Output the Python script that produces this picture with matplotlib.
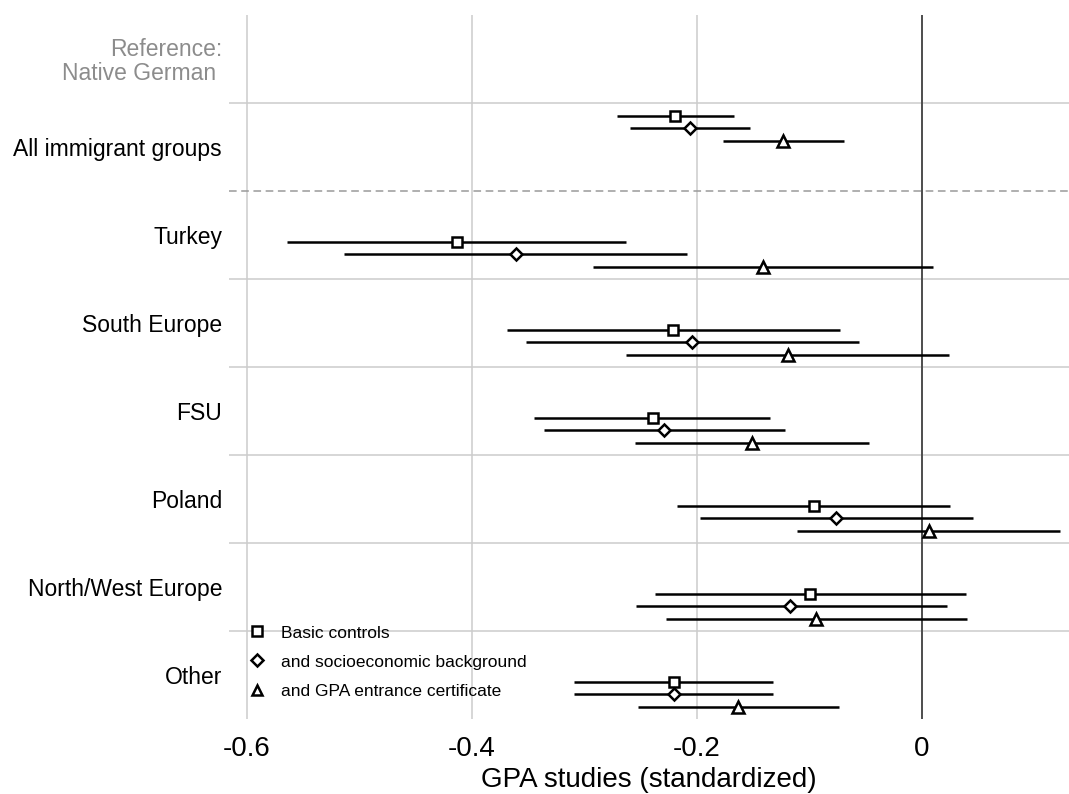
import matplotlib
matplotlib.use("Agg")
import matplotlib.pyplot as plt
from matplotlib.lines import Line2D
import numpy as np

plt.rcParams['font.family'] = ['Liberation Sans', 'DejaVu Sans']

# groups listed top to bottom (reference row sits above them)
groups = ["All immigrant groups", "Turkey", "South Europe", "FSU",
          "Poland", "North/West Europe", "Other"]
models = ["Basic controls", "and socioeconomic background",
          "and GPA entrance certificate"]

# point estimates, one list per model
est_basic = [-0.219, -0.413, -0.221, -0.239, -0.096, -0.099, -0.220]
est_ses = [-0.206, -0.361, -0.204, -0.229, -0.076, -0.117, -0.220]
est_gpa = [-0.123, -0.141, -0.119, -0.151, 0.006, -0.094, -0.163]

# 95% interval bounds
lo_basic = [-0.271, -0.564, -0.369, -0.345, -0.218, -0.237, -0.309]
hi_basic = [-0.167, -0.263, -0.073, -0.135, 0.025, 0.039, -0.132]
lo_ses = [-0.259, -0.513, -0.352, -0.336, -0.197, -0.254, -0.309]
hi_ses = [-0.153, -0.209, -0.056, -0.122, 0.045, 0.022, -0.132]
lo_gpa = [-0.177, -0.292, -0.263, -0.255, -0.111, -0.227, -0.252]
hi_gpa = [-0.069, 0.010, 0.024, -0.047, 0.123, 0.040, -0.074]

xticks = [-0.6, -0.4, -0.2, 0]
xtick_labels = ["-0.6", "-0.4", "-0.2", "0"]

fig = plt.figure(figsize=(10.69, 7.94), dpi=100)
ax = fig.add_axes([229 / 1069, 75 / 794, 840 / 1069, 704 / 794])

n_rows = len(groups) + 1
ax.set_ylim(n_rows, 0)
ax.set_xlim(-0.6156, 0.1307)

# grid
for xt in xticks[:-1]:
    ax.axvline(xt, color="#cccccc", lw=1.1, zorder=0)
ax.axvline(0, color="#4d4d4d", lw=1.4, zorder=1)
for k in range(1, n_rows):
    if k == 2:
        ax.axhline(k, color="#9a9a9a", lw=1.1, ls=(0, (5, 3)), zorder=0)
    else:
        ax.axhline(k, color="#cccccc", lw=1.1, zorder=0)

series = [
    (est_basic, lo_basic, hi_basic, "s", 7.0),
    (est_ses, lo_ses, hi_ses, "D", 6.4),
    (est_gpa, lo_gpa, hi_gpa, "^", 8.2),
]
dodge = [0.576, 0.72, 0.864]

for j, (est, lo, hi, mk, ms) in enumerate(series):
    y = np.arange(1, n_rows) + dodge[j]
    y[0] -= 0.432  # the pooled row sits higher in its band
    ax.hlines(y, lo, hi, color="black", lw=1.8, zorder=3)
    ax.plot(est, y, ls="none", marker=mk, ms=ms, mfc="white", mec="black",
            mew=1.8, zorder=4)

ax.set_xticks(xticks)
ax.set_xticklabels(xtick_labels, fontsize=20)
ax.set_yticks(np.arange(n_rows) + 0.5)
ax.set_yticklabels(["Reference:\nNative German "] + groups, fontsize=16.5,
                   linespacing=1.0)
ax.get_yticklabels()[0].set_color("#8c8c8c")
ax.tick_params(axis="both", length=0)
ax.tick_params(axis="x", pad=12)
ax.tick_params(axis="y", pad=5)
ax.set_xlabel("GPA studies (standardized)", fontsize=20, labelpad=4)
for s in ax.spines.values():
    s.set_visible(False)

handles = [Line2D([], [], ls="none", marker=m, ms=ms * 0.95, mfc="white",
                  mec="black", mew=1.8) for (_, _, _, m, ms) in series]
ax.legend(handles, models, loc="upper left", bbox_to_anchor=(0.0226, 0.133),
          frameon=False, fontsize=12.5, handlelength=1.0, handletextpad=0.9,
          borderpad=0, borderaxespad=0, labelspacing=0.8)

fig.savefig("out.png", dpi=100)
